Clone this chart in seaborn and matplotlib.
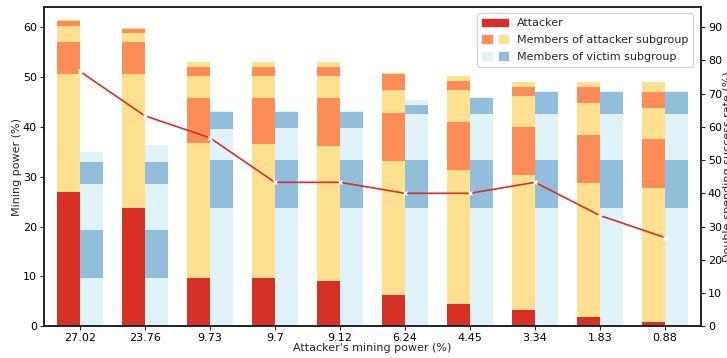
import numpy as np
import pandas as pd
import matplotlib
matplotlib.use("Agg")
import matplotlib.pyplot as plt
import seaborn as sns
from matplotlib.patches import Patch
from matplotlib.legend_handler import HandlerTuple

sns.set_style("ticks")
plt.rcParams["font.family"] = ["DejaVu Sans"]
plt.rcParams["font.size"] = 8

labels = ["27.02", "23.76", "9.73", "9.7", "9.12", "6.24", "4.45", "3.34", "1.83", "0.88"]

# attacker subgroup, cumulative tops of each stacked layer (%)
attacker = [27.02, 23.76, 9.73, 9.7, 9.12, 6.24, 4.45, 3.34, 1.83, 0.88]
att_top1 = [50.6, 50.6, 36.7, 36.5, 36.1, 33.1, 31.3, 30.3, 28.7, 27.7]
att_top2 = [57.0, 57.0, 45.8, 45.8, 45.8, 42.7, 40.9, 39.9, 38.3, 37.5]
att_top3 = [60.2, 58.8, 50.2, 50.2, 50.2, 47.3, 47.3, 46.2, 44.7, 43.7]
att_top4 = [61.2, 59.6, 52.0, 52.0, 52.0, 50.6, 49.2, 48.0, 48.0, 46.9]
att_top5 = [61.4, 59.8, 53.0, 53.0, 53.0, 50.8, 50.2, 49.0, 49.0, 49.0]

# victim subgroup, cumulative tops (%)
vic_top1 = [9.7, 9.7, 23.7, 23.7, 23.7, 23.7, 23.7, 23.7, 23.7, 23.7]
vic_top2 = [19.3, 19.3, 33.3, 33.3, 33.3, 33.3, 33.3, 33.3, 33.3, 33.3]
vic_top3 = [28.5, 28.5, 39.6, 39.7, 39.7, 42.5, 42.5, 42.5, 42.5, 42.5]
vic_top4 = [32.9, 32.9, 42.9, 42.9, 42.9, 44.3, 45.8, 46.9, 46.9, 46.9]
vic_top5 = [34.9, 36.3, 43.1, 43.1, 43.1, 45.4, 46.0, 47.1, 47.1, 47.1]

# double-spending success rate (%)
success = [76.7, 63.3, 56.7, 43.3, 43.3, 40.0, 40.0, 43.3, 33.3, 26.7]

RED = "#d73027"
ORANGE = "#fc8d59"
YELLOW = "#fee090"
LBLUE = "#e0f3f8"
MBLUE = "#91bfdb"

x = np.arange(len(labels))
w = 0.35

fig, ax = plt.subplots(figsize=(7.27, 3.58), dpi=100)
fig.subplots_adjust(left=0.0605, right=0.964, top=0.981, bottom=0.0885)

att_layers = [attacker, att_top1, att_top2, att_top3, att_top4, att_top5]
att_colors = [RED, YELLOW, ORANGE, YELLOW, ORANGE, YELLOW]
bottom = np.zeros(len(x))
for tops, c in zip(att_layers, att_colors):
    tops = np.array(tops)
    ax.bar(x - w / 2, tops - bottom, w, bottom=bottom, color=c, linewidth=0)
    bottom = tops

vic_layers = [vic_top1, vic_top2, vic_top3, vic_top4, vic_top5]
vic_colors = [LBLUE, MBLUE, LBLUE, MBLUE, LBLUE]
bottom = np.zeros(len(x))
for tops, c in zip(vic_layers, vic_colors):
    tops = np.array(tops)
    ax.bar(x + w / 2, tops - bottom, w, bottom=bottom, color=c, linewidth=0)
    bottom = tops

ax.set_xlim(-0.55, len(x) - 0.45)
ax.set_ylim(0, 64.05)
ax.set_xticks(x)
ax.set_xticklabels(labels)
ax.set_yticks(range(0, 61, 10))
ax.set_xlabel("Attacker's mining power (%)", labelpad=0)
ax.set_ylabel("Mining power (%)", labelpad=1)

ax2 = ax.twinx()
df = pd.DataFrame({"x": x, "rate": success})
sns.lineplot(data=df, x="x", y="rate", ax=ax2, color=RED, marker="x",
             markersize=3.5, markeredgewidth=1, linewidth=1.2)
ax2.set_ylim(0, 64.05 * 1.5)
ax2.set_yticks(range(0, 91, 10))
ax2.set_ylabel("Double-spending success rate (%)", labelpad=1)
ax2.set_xlabel("")

for a in (ax, ax2):
    for s in a.spines.values():
        s.set_visible(True)
        s.set_color("#222222")
        s.set_linewidth(1.2)
    a.tick_params(length=3, width=0.8, pad=2, colors="#222222", labelcolor="black")

handles = [Patch(color=RED), (Patch(color=ORANGE), Patch(color=YELLOW)),
           (Patch(color=LBLUE), Patch(color=MBLUE))]
names = ["Attacker", "Members of attacker subgroup", "Members of victim subgroup"]
ax2.legend(handles, names, loc="upper right", bbox_to_anchor=(0.997, 0.997),
           handler_map={tuple: HandlerTuple(ndivide=None, pad=0.6)},
           fontsize=8, frameon=True, handlelength=2.3, borderpad=0.45,
           labelspacing=0.6, handletextpad=0.8)

fig.savefig("out.png", dpi=100)
